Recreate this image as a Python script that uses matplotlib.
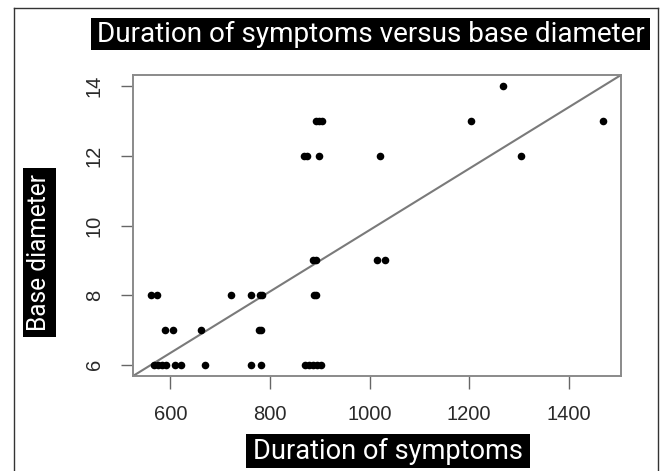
import matplotlib
matplotlib.use("Agg")
import matplotlib.pyplot as plt
from matplotlib.patches import Rectangle
from matplotlib.lines import Line2D

# ---- data ----
duration = [567, 575, 583, 591, 610, 622, 669, 761, 782, 870, 878, 886, 894, 902,
            589, 606, 661, 779, 782,
            561, 573, 721, 761, 780, 785, 889, 892,
            886, 892, 1014, 1032,
            868, 875, 898, 1021, 1305,
            892, 898, 905, 1204, 1469,
            1269]
base_diameter = [6] * 14 + [7] * 5 + [8] * 8 + [9] * 4 + [12] * 5 + [13] * 5 + [14]

x_ticks = [600, 800, 1000, 1200, 1400]
y_ticks = [6, 8, 10, 12, 14]
title_text = "Duration of symptoms versus base diameter"
xlabel_text = "Duration of symptoms"
ylabel_text = "Base diameter"

W, H = 660, 471
plt.rcParams['font.family'] = ['Liberation Sans', 'DejaVu Sans']
fig = plt.figure(figsize=(W / 100, H / 100), dpi=100)
fig.patch.set_facecolor('white')

def fx(px):
    return px / W

def fy(py):
    return 1 - py / H

# outer frame
for (x0, y0, x1, y1) in [(14, 8, 14, 480), (14, 8, 658, 8), (658, 8, 658, 480)]:
    fig.add_artist(Line2D([fx(x0), fx(x1)], [fy(y0), fy(y1)], color='#333333', lw=1.0,
                          transform=fig.transFigure))

ax = fig.add_axes([fx(133), fy(376), fx(621) - fx(133), fy(75) - fy(376)])
ax.scatter(duration, base_diameter, s=30, color='black', zorder=3, linewidths=0)
ax.plot([0, 1], [0, 1], transform=ax.transAxes, color='#7a7a7a', lw=1.5, zorder=2)
ax.set_xlim(525, 1505)
ax.set_ylim(5.68, 14.32)
ax.set_xticks(x_ticks)
ax.set_yticks(y_ticks)
ax.set_xticklabels([str(v) for v in x_ticks])
ax.set_yticklabels([str(v) for v in y_ticks], rotation=90, va='center')
for s in ax.spines.values():
    s.set_color('#8a8a8a')
    s.set_linewidth(1.4)
ax.tick_params(axis='both', direction='out', length=9, width=1.0, color='#666666',
               labelsize=14.5, labelcolor='#2a2a2a')
ax.tick_params(axis='x', pad=12)
ax.tick_params(axis='y', pad=12)

renderer = fig.canvas.get_renderer()

def boxed_text(text, box, target_w, rotation=0):
    x0, y0, x1, y1 = box
    fig.add_artist(Rectangle((fx(x0), fy(y1)), fx(x1) - fx(x0), fy(y0) - fy(y1),
                             transform=fig.transFigure, facecolor='black', edgecolor='none'))
    t = fig.text(fx((x0 + x1) / 2), fy((y0 + y1) / 2), text, color='white', fontsize=20,
                 ha='center', va='center', rotation=rotation,
                 family=['Roboto', 'Liberation Sans', 'DejaVu Sans'])
    bb = t.get_window_extent(renderer)
    cur = bb.height if rotation == 90 else bb.width
    t.set_fontsize(20 * target_w / cur)
    return t

boxed_text(title_text, (91, 18, 650, 50), 548)
boxed_text(xlabel_text, (246, 434, 530, 468), 270)
boxed_text(ylabel_text, (23, 168, 56, 337), 157, rotation=90)

fig.savefig("out.png", dpi=100)
